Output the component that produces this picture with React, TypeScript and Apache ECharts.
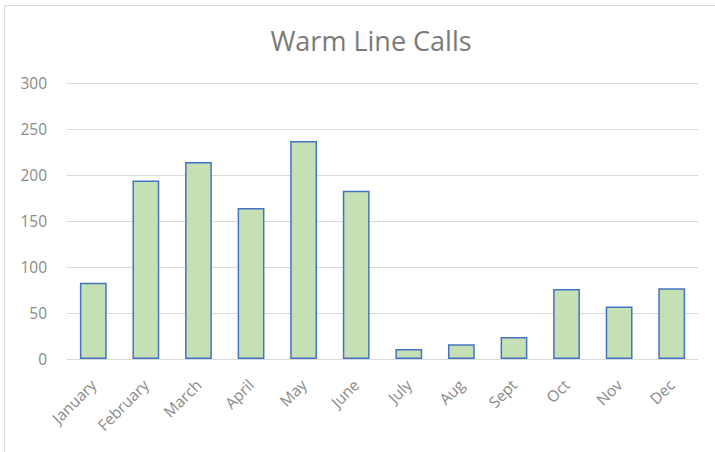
import React, { useEffect, useRef } from "react";
import * as echarts from "echarts";

const months = ["January", "February", "March", "April", "May", "June", "July", "Aug", "Sept", "Oct", "Nov", "Dec"];
const calls = [83, 194, 214, 164, 237, 183, 11, 16, 24, 76, 57, 77];
const yTicks = { min: 0, max: 300, interval: 50 };

export default function App() {
  const ref = useRef<HTMLDivElement>(null);
  useEffect(() => {
    document.body.style.margin = "0";
    const chart = echarts.init(ref.current!, null, { renderer: "svg" });
    const font = "Open Sans";
    chart.setOption({
      animation: false,
      backgroundColor: "#ffffff",
      title: {
        text: "Warm Line Calls",
        left: 366,
        top: 22,
        textAlign: "center",
        textStyle: { fontFamily: font, fontSize: 27, fontWeight: "normal", color: "#7a7a7a" },
      },
      graphic: [
        {
          type: "rect",
          shape: { x: 4.5, y: 5.5, width: 720, height: 460 },
          style: { fill: "none", stroke: "#d9d9d9", lineWidth: 1 },
          silent: true,
        },
      ],
      grid: { left: 67, right: 17, top: 83, bottom: 93, containLabel: false },
      xAxis: {
        type: "category",
        data: months,
        axisLine: { lineStyle: { color: "#d9d9d9", width: 1 } },
        axisTick: { show: false },
        axisLabel: { rotate: 45, color: "#8a8a8a", fontFamily: font, fontSize: 15.5, margin: 23, interval: 0 },
      },
      yAxis: {
        type: "value",
        min: yTicks.min,
        max: yTicks.max,
        interval: yTicks.interval,
        axisLine: { show: false },
        axisTick: { show: false },
        splitLine: { lineStyle: { color: "#d9d9d9", width: 1 } },
        axisLabel: { color: "#8a8a8a", fontFamily: font, fontSize: 15.5, margin: 20 },
      },
      series: [
        {
          type: "bar",
          data: calls,
          barWidth: "51%",
          itemStyle: { color: "#c5e0b4", borderColor: "#4472c4", borderWidth: 1.5 },
        },
      ],
    });
    return () => chart.dispose();
  }, []);
  return <div ref={ref} style={{ width: 715, height: 452 }} />;
}
